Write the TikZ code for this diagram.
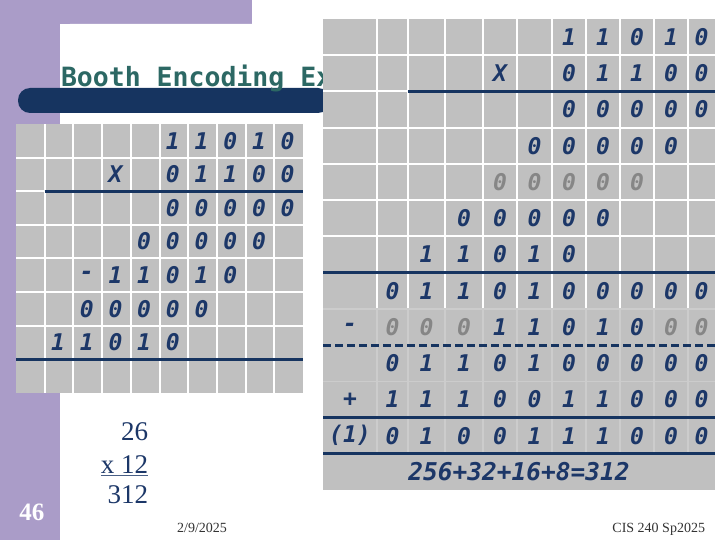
\documentclass[tikz,border=0pt]{standalone}
\usepackage{fontspec}
\setmainfont{Liberation Serif}
\newfontfamily\cellfont{DejaVu Sans Mono}
\usepackage{xcolor}
\usepackage{tikz}
\usetikzlibrary{positioning}
\usetikzlibrary{calc}

\definecolor{lavender}{RGB}{170,156,200}
\definecolor{barnavy}{RGB}{22,52,96}
\definecolor{inkblue}{RGB}{28,55,104}
\definecolor{titleteal}{RGB}{44,104,100}
\definecolor{cellgray}{RGB}{192,192,192}
\definecolor{fadegray}{RGB}{134,134,134}
\definecolor{softline}{RGB}{204,204,204}
\definecolor{footgray}{RGB}{51,51,51}

\begin{document}
\begin{tikzpicture}[x=1pt, y=-1pt,
	every node/.style={inner sep=0pt, outer sep=0pt},
	cell/.style={font=\cellfont\bfseries\itshape\fontsize{23}{23}\selectfont, text=inkblue},
	fade/.style={text=fadegray},
	sum/.style={cell, font=\cellfont\bfseries\itshape\fontsize{24.5}{24.5}\selectfont},
	heading/.style={font=\cellfont\bfseries\fontsize{26.5}{26.5}\selectfont, text=titleteal},
	gridline/.style={white, line width=2pt},
	softgrid/.style={softline, line width=1.5pt},
	rule/.style={barnavy, line width=3pt},
	number/.style={font=\fontsize{27}{27}\selectfont, text=inkblue, anchor=base east},
	footer/.style={font=\fontsize{14}{14}\selectfont, text=footgray}]
	\useasboundingbox (0,0) rectangle (720,540);
	% slide background
	\fill[lavender] (0,0) rectangle (252,24);
	\fill[lavender] (0,0) rectangle (60,540);
	\fill[white] (60,540) -- (60,34) arc[start angle=180, end angle=270, radius=10] -- (252,24) -- (252,0) -- (720,0) -- (720,540) -- cycle;
	\fill[barnavy, rounded corners=12pt] (18,88) rectangle (330,113);
	\node[heading, anchor=base west] (title) at (61,87) {Booth Encoding Example};

	% left table
	\fill[cellgray] (16,124) rectangle (303,393);
	\foreach \k in {1,...,9}
		\draw[gridline] ({16+28.7*\k},124) -- ({16+28.7*\k},393);
	\foreach \k in {1,...,7}
		\draw[gridline] (16,{124+33.6*\k}) -- (303,{124+33.6*\k});
	\draw[rule] (44.7,191.2) -- (303,191.2);
	\draw[rule] (16,359.2) -- (303,359.2);
	\foreach \k in {1,...,10}
		\coordinate (lcol\k) at ({15+28.7*(\k-0.5)},0);
	\foreach \r in {1,...,8}
		\coordinate (lrow\r) at (0,{124+33.6*(\r-0.5)});
	\foreach \iRow/\iCol/\bits in {1/6/{1,1,0,1,0}, 2/6/{0,1,1,0,0}, 3/6/{0,0,0,0,0}, 4/5/{0,0,0,0,0}, 5/4/{1,1,0,1,0}, 6/3/{0,0,0,0,0}, 7/2/{1,1,0,1,0}}
	{
		\foreach \b[count = \k, evaluate=\k as \c using int(\k + \iCol - 1)] in \bits
		{
			\node[cell] (L-\iRow-\c) at (lcol\c |- lrow\iRow) {\b};
		}
	}
	\node[cell] (L-2-4) at (lcol4 |- lrow2) {X};
	\node[cell] (L-5-3) at (lcol3 |- lrow5) {-};

	% right table
	\fill[cellgray] (323,19) rectangle (715,490);
	\foreach \xe in {377,408,445,483,517,552,586,620,654,688}
	{
		\draw[gridline] (\xe,19) -- (\xe,308.8);
		\draw[softgrid] (\xe,308.8) -- (\xe,453.8);
	}
	\foreach \k in {1,...,6}
		\draw[gridline] (323,{19+36.23*\k}) -- (715,{19+36.23*\k});
	\foreach \k in {8,10}
		\draw[softgrid] (323,{19+36.23*\k}) -- (715,{19+36.23*\k});
	\draw[rule] (408,91.5) -- (715,91.5);
	\draw[rule] (323,272.6) -- (715,272.6);
	\draw[rule, dash pattern=on 8pt off 4pt] (323,345.1) -- (715,345.1);
	\draw[rule] (323,417.5) -- (715,417.5);
	\draw[rule] (323,453.8) -- (715,453.8);
	\foreach \xc[count = \k] in {350,392.5,426.5,464,500,534.5,569,603,637,671,701.5}
		\coordinate (rcol\k) at (\xc,0);
	\foreach \r in {1,...,13}
		\coordinate (rrow\r) at (0,{19+36.23*(\r-0.5)});
	\foreach \iRow/\iCol/\bits in {1/7/{1,1,0,1,0}, 2/7/{0,1,1,0,0}, 3/7/{0,0,0,0,0}, 4/6/{0,0,0,0,0}, 6/4/{0,0,0,0,0}, 7/3/{1,1,0,1,0}, 8/2/{0,1,1,0,1,0,0,0,0,0}, 9/5/{1,1,0,1,0}, 10/2/{0,1,1,0,1,0,0,0,0,0}, 11/2/{1,1,1,0,0,1,1,0,0,0}, 12/2/{0,1,0,0,1,1,1,0,0,0}}
	{
		\foreach \b[count = \k, evaluate=\k as \c using int(\k + \iCol - 1)] in \bits
		{
			\node[cell] (R-\iRow-\c) at (rcol\c |- rrow\iRow) {\b};
		}
	}
	\foreach \iRow/\iCol/\bits in {5/5/{0,0,0,0,0}, 9/2/{0,0,0}, 9/10/{0,0}}
	{
		\foreach \b[count = \k, evaluate=\k as \c using int(\k + \iCol - 1)] in \bits
		{
			\node[cell, fade] (R-\iRow-\c) at (rcol\c |- rrow\iRow) {\b};
		}
	}
	\node[cell] (R-2-5) at (rcol5 |- rrow2) {X};
	\node[cell] (R-9-1) at (rcol1 |- rrow9) {-};
	\node[cell] (R-11-1) at (rcol1 |- rrow11) {+};
	\node[cell] (R-12-1) at (rcol1 |- rrow12) {(1)};
	\node[sum] (total) at (519,471.9) {256+32+16+8=312};

	% decimal check
	\node[number] (mcand) at (148,440) {26};
	\node[number] (mplier) at (148,473) {x 12};
	\node[number] (product) at (148,503) {312};
	\draw[inkblue!80, line width=1.5pt] ($(mplier.base west)+(0,2.5)$) -- ($(mplier.base east)+(0,2.5)$);

	% footer
	\node[font=\bfseries\fontsize{25}{25}\selectfont, text=white, anchor=base] (pageno) at (32,520) {46};
	\node[footer, anchor=base] (date) at (202,532) {2/9/2025};
	\node[footer, anchor=base east] (course) at (705,532) {CIS 240 Sp2025};
\end{tikzpicture}
\end{document}
